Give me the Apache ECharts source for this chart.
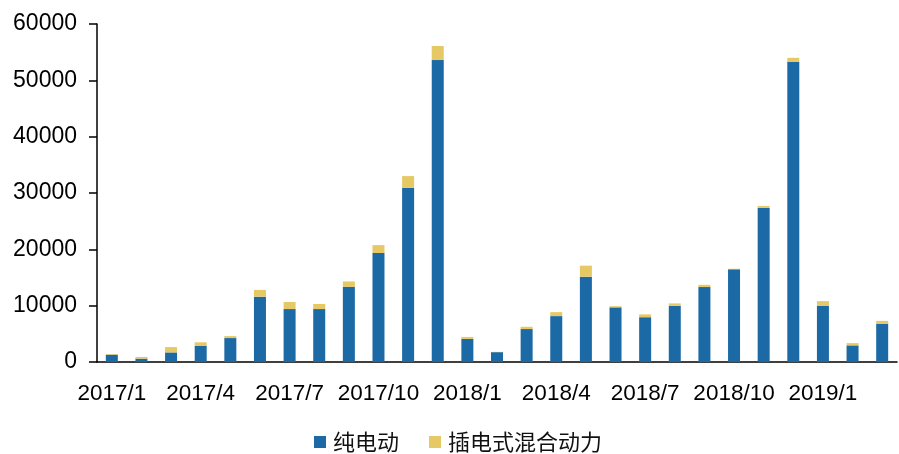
<!DOCTYPE html>
<html><head><meta charset="utf-8">
<script src="https://cdn.jsdelivr.net/npm/echarts@6/dist/echarts.min.js"></script>
<style>html,body{margin:0;padding:0;background:#fff}#c{width:899px;height:454px}</style>
</head><body><div id="c"></div>
<script>
const categories = ["2017/1","2017/2","2017/3","2017/4","2017/5","2017/6","2017/7","2017/8","2017/9","2017/10","2017/11","2017/12",
"2018/1","2018/2","2018/3","2018/4","2018/5","2018/6","2018/7","2018/8","2018/9","2018/10","2018/11","2018/12",
"2019/1","2019/2","2019/3"];
const bev = [1300,600,1700,2900,4250,11600,9400,9400,13350,19350,30900,53600,
4100,1750,5850,8150,15150,9700,7950,9950,13300,16450,27350,53300,
10000,2950,6800];
const phev = [100,300,950,600,350,1200,1250,900,950,1400,2100,2500,
350,50,400,700,1950,200,500,450,400,100,350,700,
800,400,500];
const yTicks = {min:0, max:60000, interval:10000};
const names = ["纯电动","插电式混合动力"];

const chart = echarts.init(document.getElementById('c'));
chart.setOption({
  animation:false,
  grid:{left:97,right:2,top:24,bottom:92},
  legend:{top:430,left:314,padding:0,itemWidth:12,itemHeight:12,itemGap:30,
    textStyle:{fontFamily:'Noto Sans CJK SC',fontSize:22,lineHeight:24,color:'#111',padding:[0,0,0,2]},
    data:names.map(n=>({name:n,icon:'rect'}))},
  xAxis:{type:'category',data:categories,
    axisLine:{lineStyle:{color:'#000',width:1.5}},
    axisTick:{interval:2,length:6,lineStyle:{color:'#000',width:1.5}},
    axisLabel:{interval:2,color:'#000',fontFamily:'Liberation Sans',fontSize:22.5,margin:20}},
  yAxis:{type:'value',min:yTicks.min,max:yTicks.max,interval:yTicks.interval,
    axisLine:{show:true,lineStyle:{color:'#000',width:1.5}},
    axisTick:{show:true,length:8,lineStyle:{color:'#000',width:1.5}},
    splitLine:{show:false},
    axisLabel:{color:'#000',fontFamily:'Liberation Sans',fontSize:23,margin:20,formatter:v=>String(v)}},
  series:[
    {name:names[0],type:'bar',stack:'s',data:bev,barWidth:12,itemStyle:{color:'#1b6aa6'}},
    {name:names[1],type:'bar',stack:'s',data:phev,barWidth:12,itemStyle:{color:'#e6c865'}}
  ]
});
</script></body></html>
